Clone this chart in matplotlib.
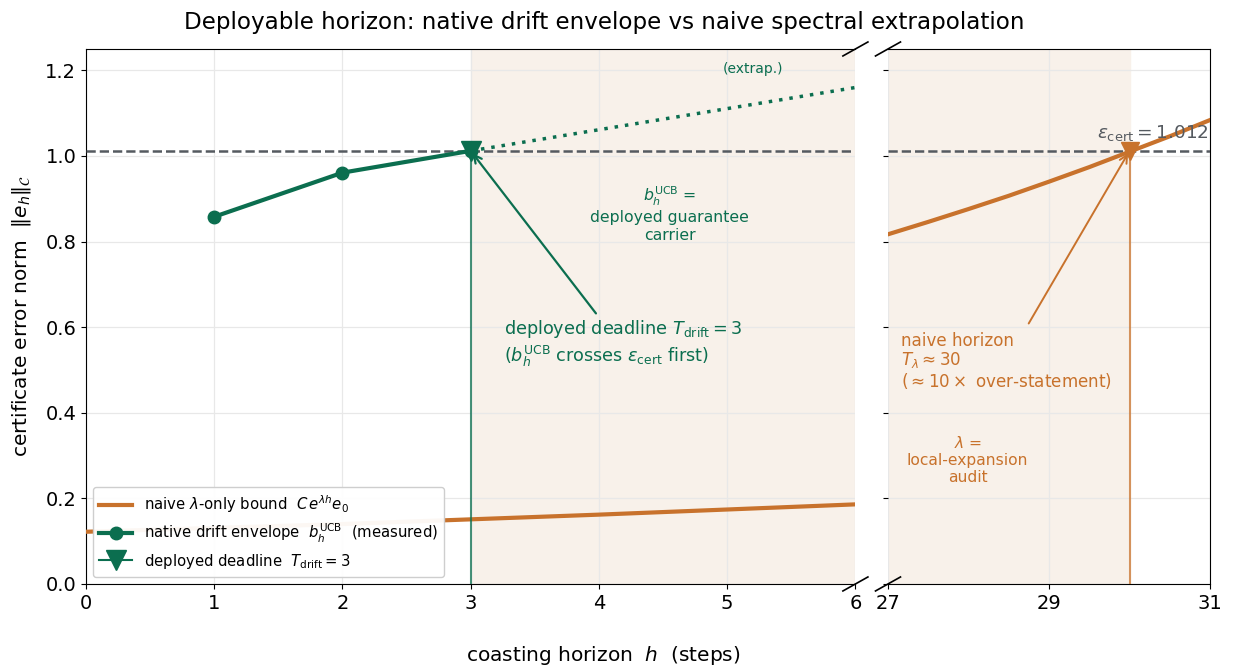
import numpy as np
import matplotlib
matplotlib.use("Agg")
import matplotlib.pyplot as plt
from matplotlib.lines import Line2D

# values
h_naive_left = [0, 1, 2, 3, 4, 5, 6]
naive_left = [0.122, 0.131, 0.140, 0.151, 0.162, 0.174, 0.186]
h_naive_right = [27, 27.5, 28, 28.5, 29, 29.5, 30, 30.5, 31]
naive_right = [0.817, 0.846, 0.876, 0.907, 0.940, 0.974, 1.010, 1.046, 1.084]

h_env = [1, 2, 3]
env = [0.858, 0.961, 1.012]
h_extrap = [3, 6]
extrap = [1.012, 1.160]

eps_cert = 1.012
T_drift = 3
T_lam = 30

GREEN = "#0b6e4f"
ORANGE = "#c8722c"
GREY = "#555a60"
SHADE = "#f8f1ea"

fig = plt.figure(figsize=(12.34, 6.7), dpi=100)
ax1 = fig.add_axes([0.0697, 0.1284, 0.6235, 0.7985])
ax2 = fig.add_axes([0.7196, 0.1284, 0.2610, 0.7985], sharey=ax1)

for ax in (ax1, ax2):
    ax.axvspan(T_drift, T_lam, color=SHADE, zorder=0)
    ax.axhline(eps_cert, color=GREY, ls="--", lw=1.8, zorder=3)
    ax.grid(True, color="#e8e8e8", lw=0.9, zorder=1)
    ax.set_axisbelow(True)
    ax.tick_params(labelsize=14)

# left panel
ax1.plot(h_naive_left, naive_left, color=ORANGE, lw=3, zorder=4)
ax1.plot(h_env, env, color=GREEN, lw=3, marker="o", ms=9, zorder=5)
ax1.plot(h_extrap, extrap, color=GREEN, lw=2.5, ls=(0, (1, 2)), zorder=4)
ax1.plot([T_drift, T_drift], [0, eps_cert], color=GREEN, lw=1.5, alpha=0.75, zorder=4)
ax1.plot([T_drift], [eps_cert], marker="v", color=GREEN, ms=14, ls="none", zorder=6)
ax1.annotate("", xy=(T_drift, eps_cert), xytext=(3.99, 0.627),
             arrowprops=dict(arrowstyle="->", color=GREEN, lw=1.6, mutation_scale=14))
ax1.text(3.26, 0.562, "deployed deadline $T_{\\rm drift}=3$\n($b_h^{\\rm UCB}$ crosses $\\varepsilon_{\\rm cert}$ first)",
         color=GREEN, fontsize=12.7, ha="left", va="center", linespacing=1.25)
ax1.text(4.55, 0.865, "$b_h^{\\rm UCB}$ =\ndeployed guarantee\ncarrier",
         color=GREEN, fontsize=11.3, ha="center", va="center", linespacing=1.2)
ax1.text(5.2, 1.204, "(extrap.)", color=GREEN, fontsize=10, ha="center", va="center")

ax1.set_xlim(0, 6)
ax1.set_ylim(0, 1.25)
ax1.set_xticks([0, 1, 2, 3, 4, 5, 6])
ax1.set_yticks([0.0, 0.2, 0.4, 0.6, 0.8, 1.0, 1.2])
ax1.spines["right"].set_visible(False)
ax1.set_ylabel("certificate error norm  $\\|e_h\\|_{\\mathcal{C}}$", fontsize=14.5, labelpad=9)

handles = [
    Line2D([], [], color=ORANGE, lw=3),
    Line2D([], [], color=GREEN, lw=3, marker="o", ms=9),
    Line2D([], [], color=GREEN, lw=1.5, marker="v", ms=14),
]
labels = [
    "naive $\\lambda$-only bound  $C\\,e^{\\lambda h}e_0$",
    "native drift envelope  $b_h^{\\rm UCB}$  (measured)",
    "deployed deadline  $T_{\\rm drift}=3$",
]
ax1.legend(handles, labels, loc="lower left", fontsize=10.7, framealpha=0.95,
           borderaxespad=0.5, handlelength=2.2, labelspacing=0.45)

# right panel
ax2.plot(h_naive_right, naive_right, color=ORANGE, lw=3, zorder=4)
ax2.plot([T_lam, T_lam], [0, eps_cert], color=ORANGE, lw=1.5, alpha=0.75, zorder=4)
ax2.plot([T_lam], [eps_cert], marker="v", color=ORANGE, ms=13, ls="none", zorder=6)
ax2.annotate("", xy=(T_lam, eps_cert), xytext=(28.73, 0.603),
             arrowprops=dict(arrowstyle="->", color=ORANGE, lw=1.4, mutation_scale=14))
ax2.text(27.16, 0.52, "naive horizon\n$T_\\lambda\\approx 30$\n$(\\approx 10\\times$ over-statement)",
         color=ORANGE, fontsize=12.1, ha="left", va="center", linespacing=1.05)
ax2.text(27.99, 0.29, "$\\lambda$ =\nlocal-expansion\naudit",
         color=ORANGE, fontsize=11.2, ha="center", va="center", linespacing=1.15)
ax2.text(30.98, 1.03, "$\\varepsilon_{\\rm cert} = 1.012$", color=GREY, fontsize=13.3,
         ha="right", va="bottom", zorder=7)

ax2.set_xlim(27, 31)
ax2.set_xticks([27, 29, 31])
ax2.spines["left"].set_visible(False)
ax2.tick_params(axis="y", labelleft=False)

# break marks
kw = dict(color="k", clip_on=False, lw=1.2)
dy = 7 / 535
for y0 in (0, 1):
    ax1.plot([1 - 12.5 / 769, 1 + 12.5 / 769], [y0 - dy, y0 + dy], transform=ax1.transAxes, **kw)
    ax2.plot([-12.5 / 322, 12.5 / 322], [y0 - dy, y0 + dy], transform=ax2.transAxes, **kw)

fig.suptitle("Deployable horizon: native drift envelope vs naive spectral extrapolation",
             fontsize=16.6, x=0.49, y=0.983)
fig.text(0.489, 0.021, "coasting horizon  $h$  (steps)", fontsize=14.5, ha="center", va="center")

fig.savefig("out.png", dpi=100)
